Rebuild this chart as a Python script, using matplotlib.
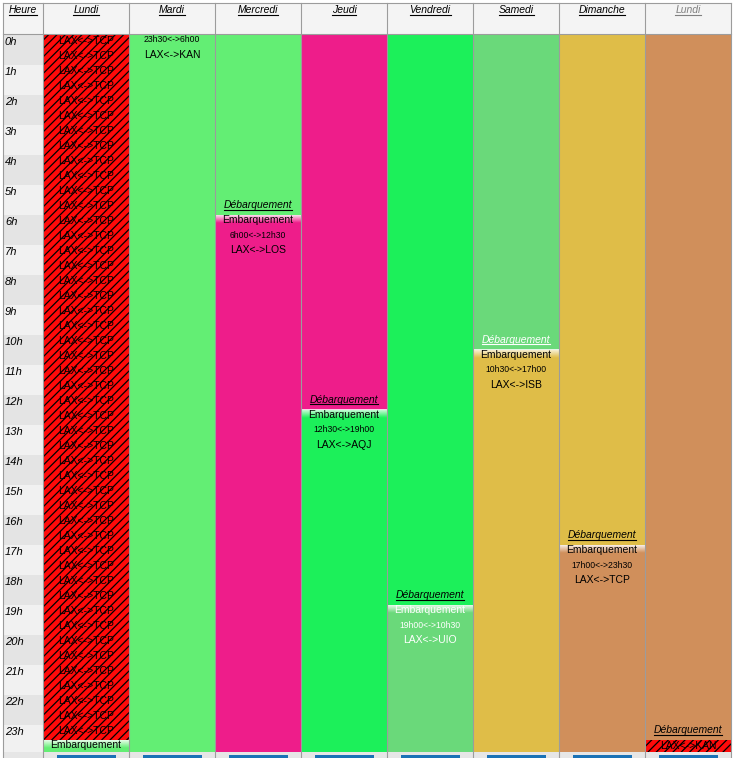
import numpy as np
import matplotlib
matplotlib.use("Agg")
import matplotlib.pyplot as plt
from matplotlib.patches import Rectangle
from matplotlib.lines import Line2D
from matplotlib.transforms import IdentityTransform

plt.rcParams['font.family'] = ['Liberation Sans', 'DejaVu Sans']
plt.rcParams['hatch.linewidth'] = 0.9

# Colonnes et heures
jours = ["Lundi", "Mardi", "Mercredi", "Jeudi", "Vendredi", "Samedi", "Dimanche", "Lundi"]
heures = [f"{h}h" for h in range(24)]

# Voyages, en heures depuis lundi 0h
voy_route = ["LAX<->TCP", "LAX<->KAN", "LAX<->LOS", "LAX<->AQJ",
             "LAX<->UIO", "LAX<->ISB", "LAX<->TCP", "LAX<->KAN"]
voy_debut = [0, 23.5, 54, 84.5, 115, 130.5, 161, 191.5]
voy_fin = [23.5, 54, 84.5, 115, 130.5, 161, 191.5, 192]
voy_couleur = ["#ff0a0a", "#63ee74", "#ee1d8a", "#1cf05a",
               "#6ad97a", "#dfbd48", "#d08f5b", "#ff0a0a"]
voy_hachure = [True, False, False, False, False, False, False, True]
voy_texte = ["black", "black", "black", "black", "white", "black", "black", "black"]

# mise en page (x en pixels, y en heures)
PX = 1 / 30.0
X_H, W_H = 3, 40
COL_W = 86
FIN_COL = 23.9


def col_x(i):
    return X_H + W_H + COL_W * i


def fmt(t):
    t = t % 24
    return f"{int(t)}h{int(round((t - int(t)) * 60)):02d}"


fig = plt.figure(figsize=(7.38, 7.58), dpi=100)
ax = fig.add_axes([0, 0, 1, 1])
ax.set_xlim(0, 738)
ax.set_ylim(24.1, -35 * PX)
ax.axis('off')

a_souligner = []

# entete
haut_h, bas_h = -32 * PX, -1 * PX
ax.add_patch(Rectangle((X_H, haut_h), col_x(8) - X_H, bas_h - haut_h, fc="#f4f4f4", ec="none"))
t = ax.text(X_H + W_H / 2, -25 * PX, "Heure", style='italic', fontsize=7.5, ha='center', va='center')
a_souligner.append(t)
for i, j in enumerate(jours):
    c = "#808080" if i == len(jours) - 1 else "black"
    t = ax.text(col_x(i) + COL_W / 2, -25 * PX, j, style='italic', fontsize=7.5,
                ha='center', va='center', color=c)
    a_souligner.append(t)

# colonne des heures
for h in range(24):
    ax.add_patch(Rectangle((X_H, h), W_H, 1, fc="#e4e4e4" if h % 2 == 0 else "#f1f1f1", ec="none"))
    ax.text(X_H + 2, h + 2 * PX, heures[h], style='italic', fontsize=8, ha='left', va='top')

# blocs des voyages
for k in range(len(voy_route)):
    for d in range(len(jours)):
        a = max(voy_debut[k], 24 * d)
        b = min(voy_fin[k], 24 * d + FIN_COL)
        if b <= a:
            continue
        if voy_hachure[k]:
            ax.add_patch(Rectangle((col_x(d), a - 24 * d), COL_W, b - a, fc=voy_couleur[k],
                                   ec="black", lw=0, hatch="////", zorder=1))
        else:
            ax.add_patch(Rectangle((col_x(d), a - 24 * d), COL_W, b - a, fc=voy_couleur[k],
                                   ec="none", zorder=1))

# textes
for k in range(len(voy_route)):
    col = voy_texte[k]
    if voy_hachure[k]:
        for s in np.arange(voy_debut[k], voy_fin[k], 0.5):
            d = int(s // 24)
            y = s - 24 * d + 6 * PX
            if y < FIN_COL:
                ax.text(col_x(d) + COL_W / 2, y, voy_route[k], fontsize=7.5, ha='center',
                        va='center', color=col, zorder=4)
        continue
    # debut : degrade + embarquement
    d0 = int(voy_debut[k] // 24)
    y0 = voy_debut[k] - 24 * d0
    g = min(8 * PX, FIN_COL - y0)
    grad = np.ones((24, 1, 4))
    grad[:, 0, 3] = np.linspace(0.85, 0.0, 24)
    ax.imshow(grad, extent=(col_x(d0), col_x(d0) + COL_W, y0 + g, y0), aspect='auto',
              interpolation='bilinear', zorder=2)
    ax.text(col_x(d0) + COL_W / 2, y0 + 5 * PX, "Embarquement", fontsize=7.5,
            ha='center', va='center', color=col, zorder=4)
    horaire = f"{fmt(voy_debut[k])}<->{fmt(voy_fin[k])}"
    if y0 + 40 * PX < FIN_COL:
        xt, yt = col_x(d0) + COL_W / 2, y0 + 20 * PX
    else:
        xt, yt = col_x(d0 + 1) + COL_W / 2, 5 * PX
    ax.text(xt, yt, horaire, fontsize=6.2, ha='center', va='center', color=col, zorder=4)
    ax.text(xt, yt + 15 * PX, voy_route[k], fontsize=7.5, ha='center', va='center',
            color=col, zorder=4)
    # fin : debarquement
    d1 = int(voy_fin[k] // 24)
    y1 = voy_fin[k] - 24 * d1
    t = ax.text(col_x(d1) + COL_W / 2, y1 - 10 * PX, "Débarquement", style='italic',
                fontsize=7.5, ha='center', va='center', color=col, zorder=4)
    a_souligner.append(t)

# ligne du bas
ax.add_patch(Rectangle((X_H, FIN_COL), col_x(8) - X_H, 0.3, fc="#e6e6e6", ec="none", zorder=3))
for d in range(len(jours)):
    ax.add_patch(Rectangle((col_x(d) + 14, 720 * PX), 59, 0.2, fc="#1a72b6", ec="none", zorder=3))

# bordures
for x in [X_H] + [col_x(i) for i in range(9)]:
    ax.plot([x, x], [haut_h, 24.1], color="#9c9c9c", lw=0.8, zorder=5)
ax.plot([X_H, col_x(8)], [haut_h, haut_h], color="#9c9c9c", lw=0.8, zorder=5)
ax.plot([X_H, col_x(8)], [bas_h, bas_h], color="#9c9c9c", lw=0.8, zorder=5)

ax.set_xlim(0, 738)
ax.set_ylim(24.1, -35 * PX)

# soulignements
fig.canvas.draw()
for t in a_souligner:
    bb = t.get_window_extent()
    fig.add_artist(Line2D([bb.x0, bb.x1], [bb.y0 + 0.5, bb.y0 + 0.5], transform=IdentityTransform(),
                          color=t.get_color(), lw=0.8))

fig.savefig("out.png", dpi=100)
